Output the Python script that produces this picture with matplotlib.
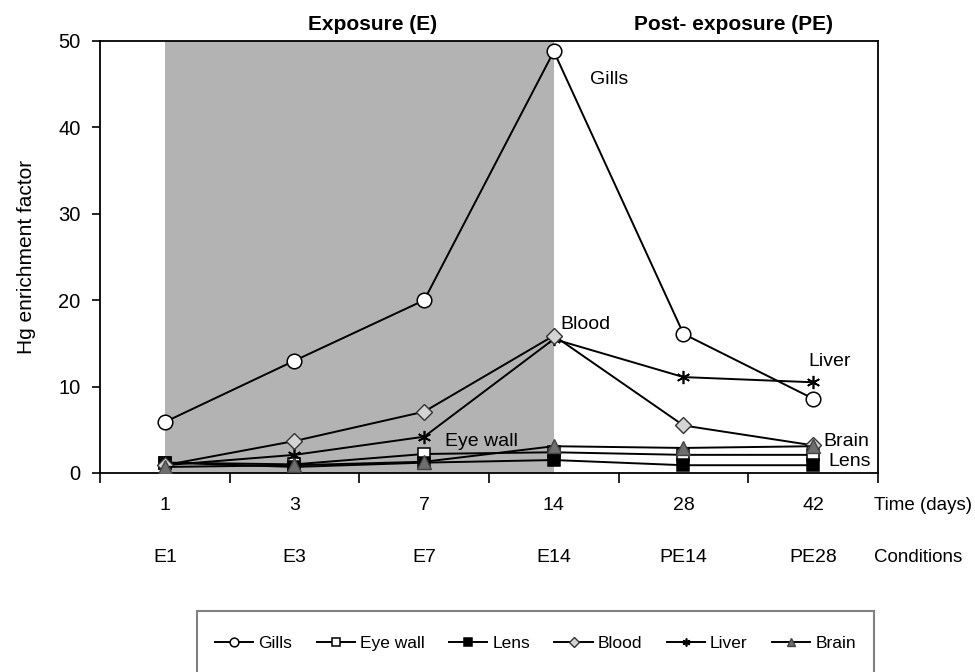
import matplotlib
matplotlib.use("Agg")
import matplotlib.pyplot as plt
from matplotlib.patches import Rectangle
import numpy as np

plt.rcParams['font.family'] = ['Liberation Sans', 'DejaVu Sans']

days = ["1", "3", "7", "14", "28", "42"]
conditions = ["E1", "E3", "E7", "E14", "PE14", "PE28"]

gills = [5.9, 13.0, 20.0, 48.8, 16.1, 8.6]
eye_wall = [1.2, 1.0, 2.2, 2.4, 2.1, 2.1]
lens = [1.2, 0.7, 1.2, 1.5, 0.9, 0.9]
blood = [0.9, 3.7, 7.1, 15.9, 5.5, 3.2]
liver = [0.9, 2.1, 4.2, 15.5, 11.1, 10.5]
brain = [0.7, 0.9, 1.3, 3.1, 2.9, 3.1]

W, H = 975, 672
fig = plt.figure(figsize=(W / 100, H / 100), dpi=100)
L, R, T, B = 100, 878, 41, 473
ax = fig.add_axes([L / W, 1 - B / H, (R - L) / W, (B - T) / H])

x = np.arange(len(days))
ax.axvspan(0, 3, color='#b3b3b3', zorder=0, lw=0)

lw = 1.4
ms = 9.5
ax.plot(x, gills, '-', color='black', lw=lw, marker='o', ms=ms + 1, mfc='white', mec='black', mew=1.1, label='Gills', zorder=5)
ax.plot(x, eye_wall, '-', color='black', lw=lw, marker='s', ms=ms - 1, mfc='white', mec='black', mew=1.1, label='Eye wall', zorder=3)
ax.plot(x, lens, '-', color='black', lw=lw, marker='s', ms=ms - 1, mfc='black', mec='black', mew=1.1, label='Lens', zorder=3)
ax.plot(x, blood, '-', color='black', lw=lw, marker='D', ms=ms - 1.5, mfc='#d4d4d4', mec='#333333', mew=1.0, label='Blood', zorder=5)
ax.plot(x, liver, '-', color='black', lw=lw, marker=(6, 2, 0), ms=ms, mfc='black', mec='black', mew=1.2, label='Liver', zorder=4)
ax.plot(x, brain, '-', color='black', lw=lw, marker='^', ms=ms + 0.5, mfc='#6e6e6e', mec='#444444', mew=1.0, label='Brain', zorder=6)

ax.set_xlim(-0.5, 5.5)
ax.set_ylim(0, 50)
ax.set_yticks([0, 10, 20, 30, 40, 50])
ax.tick_params(axis='y', direction='out', length=6, width=1.2, pad=8, labelsize=14.5)
ax.set_xticks(np.arange(-0.5, 6.0, 1.0))
ax.set_xticklabels([])
ax.tick_params(axis='x', direction='out', length=7, width=1.2)
for s in ax.spines.values():
    s.set_linewidth(1.3)

ax.set_ylabel('Hg enrichment factor', fontsize=15, labelpad=16)

for i in range(len(days)):
    fig.text((L + (i + 0.5) * (R - L) / 6) / W, 1 - 505 / H, days[i], ha='center', va='center', fontsize=14)
    fig.text((L + (i + 0.5) * (R - L) / 6) / W, 1 - 557 / H, conditions[i], ha='center', va='center', fontsize=14)
fig.text(874 / W, 1 - 505 / H, 'Time (days)', ha='left', va='center', fontsize=13.5)
fig.text(874 / W, 1 - 557 / H, 'Conditions', ha='left', va='center', fontsize=13.5)

fig.text(373 / W, 1 - 24 / H, 'Exposure (E)', ha='center', va='center', fontsize=15, fontweight='bold')
fig.text(733 / W, 1 - 24 / H, 'Post- exposure (PE)', ha='center', va='center', fontsize=15, fontweight='bold')

def ann(px, py, s):
    fig.text(px / W, 1 - py / H, s, ha='left', va='center', fontsize=14)

ann(590, 80, 'Gills')
ann(560, 325, 'Blood')
ann(808, 362, 'Liver')
ann(445, 441, 'Eye wall')
ann(823, 441, 'Brain')
ann(828, 461, 'Lens')

fig.patches.append(Rectangle((197 / W, -0.02), (874 - 197) / W, 0.02 + (672 - 611) / H,
                             transform=fig.transFigure, fill=False, edgecolor='#808080', lw=1.5))
handles, labels = ax.get_legend_handles_labels()
leg = fig.legend(handles, labels, loc='center', bbox_to_anchor=((197 + 874) / 2 / W, 1 - 643 / H),
                 ncol=6, frameon=False, fontsize=12.5, handlelength=2.2, handletextpad=0.3,
                 columnspacing=1.4, markerscale=0.6)

fig.savefig('out.png', dpi=100)
